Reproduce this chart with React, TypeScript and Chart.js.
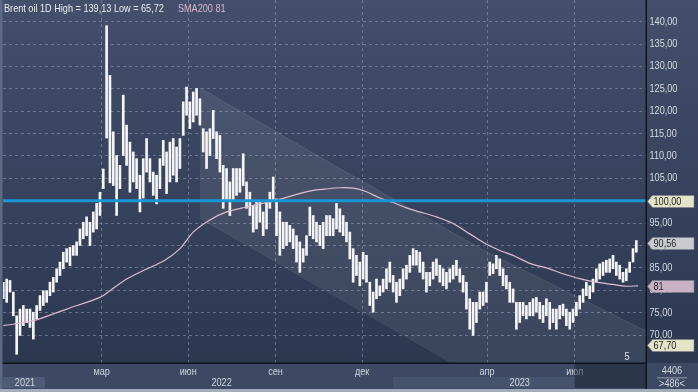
import React, { useEffect, useRef } from 'react';
import { Chart, registerables } from 'chart.js';

Chart.register(...registerables);

const FONT = "'Liberation Sans', Arial, sans-serif";
const SX = 0.83; // horizontal compression to imitate a narrow UI font

// OHLC ranges sampled along the time axis (index units)
const highs = [
  81.8, 82.5, 82.2, 79.6, 74.3, 75.8, 76.6, 75.8, 75.8, 75.1,
  76.6, 78.8, 79.9, 79.9, 81.8, 82.9, 84.8, 86.3, 88.5, 89.3,
  89.6, 90.0, 90.8, 93.7, 95.2, 96.4, 95.2, 97.5, 99.4, 101.9,
  107.1, 139.1, 128.0, 115.4, 110.1, 107.9, 123.6, 116.9, 113.1, 110.9,
  109.4, 105.7, 109.4, 113.9, 109.4, 106.4, 105.7, 109.4, 113.5, 110.9,
  113.1, 113.9, 112.0, 113.9, 122.1, 125.4, 122.1, 124.3, 125.1, 122.8,
  116.1, 115.4, 116.1, 120.2, 115.4, 114.6, 107.9, 107.2, 104.2, 107.2,
  107.2, 107.2, 110.5, 104.2, 101.9, 98.9, 99.7, 99.7, 97.5, 99.7,
  101.9, 105.3, 100.4, 97.5, 95.2, 95.2, 94.5, 93.7, 92.2, 90.8,
  89.3, 92.2, 98.6, 96.7, 95.2, 94.5, 95.2, 96.7, 96.7, 96.0,
  99.4, 98.2, 96.7, 95.2, 93.0, 89.3, 87.8, 86.3, 88.5, 87.8,
  81.8, 79.6, 82.5, 81.0, 82.5, 84.8, 86.3, 83.3, 81.8, 82.5,
  84.8, 85.6, 87.8, 89.3, 88.9, 88.5, 86.3, 84.0, 84.0, 86.3,
  87.0, 85.6, 84.8, 84.0, 84.8, 85.6, 86.7, 84.8, 83.3, 81.8,
  78.1, 77.3, 77.3, 79.6, 79.6, 81.8, 86.3, 85.9, 87.8, 87.0,
  84.8, 83.3, 81.8, 80.3, 77.3, 77.3, 77.3, 76.6, 77.3, 78.1,
  78.4, 77.3, 76.6, 78.1, 77.3, 75.8, 75.8, 76.6, 76.9, 75.8,
  75.1, 75.8, 77.3, 78.8, 80.3, 81.8, 81.0, 82.5, 84.8, 85.9,
  86.3, 86.7, 87.0, 87.8, 86.3, 85.6, 84.0, 84.8, 86.3, 89.3,
  91.1,
];

const lows = [
  78.1, 77.3, 79.6, 74.3, 65.7, 69.9, 72.1, 72.8, 71.7, 69.1,
  73.6, 75.5, 76.6, 77.3, 78.8, 79.6, 81.8, 83.3, 84.8, 86.3,
  85.5, 87.8, 87.8, 90.0, 91.5, 92.2, 90.0, 93.0, 93.7, 96.7,
  102.7, 114.0, 104.0, 103.4, 96.7, 102.7, 110.1, 107.9, 101.9, 104.2,
  102.7, 97.5, 100.6, 106.4, 104.2, 101.2, 99.3, 102.7, 107.9, 101.6,
  104.2, 105.7, 104.2, 107.2, 114.6, 119.1, 116.1, 117.6, 119.1, 116.9,
  110.9, 107.2, 110.1, 113.9, 109.4, 106.4, 98.3, 99.8, 96.7, 99.8,
  101.2, 101.9, 103.4, 98.3, 96.7, 93.0, 93.7, 95.2, 92.2, 93.7,
  98.3, 99.8, 92.2, 87.8, 89.3, 90.0, 90.8, 89.3, 86.3, 84.0,
  86.3, 87.8, 92.2, 91.5, 90.8, 90.0, 89.3, 92.2, 92.2, 92.2,
  93.7, 93.0, 92.2, 90.8, 87.0, 81.8, 83.3, 81.0, 82.5, 81.8,
  76.6, 75.1, 78.1, 78.8, 79.6, 80.3, 81.8, 79.6, 77.3, 78.8,
  80.3, 82.5, 84.0, 85.6, 85.6, 84.0, 82.5, 79.6, 81.0, 82.5,
  83.3, 81.8, 81.0, 80.3, 81.8, 82.5, 83.3, 81.8, 79.6, 75.8,
  71.3, 69.9, 72.8, 75.8, 76.6, 77.3, 83.3, 83.7, 84.8, 83.3,
  81.0, 80.3, 77.3, 77.3, 71.3, 72.8, 74.3, 73.6, 74.3, 74.3,
  75.1, 73.6, 72.8, 74.3, 71.3, 72.8, 71.3, 73.6, 74.3, 72.1,
  71.3, 72.8, 74.3, 75.8, 77.3, 78.8, 78.1, 79.6, 81.8, 82.5,
  83.3, 84.0, 84.0, 84.8, 83.3, 82.5, 81.8, 82.1, 84.0, 86.3,
  88.5,
];

// SMA200
const smaX = [0, 9, 19, 29, 32, 37, 42, 48.5, 53, 57, 62, 67, 73, 77, 82, 87, 93, 96.5, 101, 105, 109, 113, 117, 121, 125, 130, 135, 140, 144.5, 149, 153, 158, 163, 168, 173, 178, 183, 187, 190.5];
const smaY = [72.1, 73.2, 75.8, 78.4, 79.9, 82.5, 84.4, 86.7, 89.3, 93.0, 95.7, 97.5, 98.6, 99.3, 100.1, 101.2, 102.3, 102.6, 102.9, 102.8, 102.0, 100.6, 99.6, 98.4, 97.5, 96.4, 94.9, 92.6, 90.5, 88.9, 87.8, 86.0, 85.0, 83.7, 82.6, 81.8, 81.3, 80.9, 81.0];

// Descending channel
const channelX = [59, 96.5, 144.5, 192.9];
const channelUpper = [125.2, 109.1, 88.8, 70.9];
const channelLower = [96.1, 80.0, 59.5, 38.8];

const LEVEL = 100;

const X_MIN = -0.1;
const X_MAX = 192.9;
const Y_MIN = 63.75;
const Y_MAX = 144.85;

const yTicks = [70, 75, 80, 85, 90, 95, 100, 105, 110, 115, 120, 125, 130, 135, 140];
const monthTickPos = [29.5, 55.5, 81.7, 107.7, 145.2, 171.5];
const monthLabels = ['мар', 'июн', 'сен', 'дек', 'апр', 'июл'];
const yearLabels = ['2021', '2022', '2023'];
const yearLabelPos = [6.5, 65.5, 155];
const yearStartPos = [12.5, 117];

const tagValues = [100, 90.56, 81, 67.7];
const tagTexts = ['100,00', '90,56', '81', '67,70'];
const tagColors = ['#e4e4c6', '#c9cbcf', '#c9b2c3', '#e4e4c6'];

const titleText = 'Brent oil 1D High = 139,13 Low = 65,72';
const smaText = 'SMA200 81';

const fmt = (v: number) => v.toFixed(2).replace('.', ',');

function text(ctx: CanvasRenderingContext2D, t: string, x: number, y: number, align: CanvasTextAlign, color: string) {
  ctx.save();
  ctx.translate(x, y);
  ctx.scale(SX, 1);
  ctx.font = `11px ${FONT}`;
  ctx.textAlign = align;
  ctx.textBaseline = 'middle';
  ctx.fillStyle = color;
  ctx.fillText(t, 0, 0);
  ctx.restore();
}

const decorPlugin = {
  id: 'decor',
  beforeDraw(chart: any) {
    const { ctx, width, height, chartArea: ca, scales } = chart;
    const xs = scales.x;
    ctx.save();
    const g = ctx.createLinearGradient(0, 0, 0, ca.bottom);
    g.addColorStop(0, '#434f6b');
    g.addColorStop(1, '#2c3850');
    ctx.fillStyle = g;
    ctx.fillRect(0, 0, width, ca.bottom);
    // bottom strip
    ctx.fillStyle = '#3d4962';
    ctx.fillRect(0, ca.bottom, width, height - ca.bottom);
    const yb0 = ca.bottom + 14;
    const yb1 = ca.bottom + 25;
    ctx.fillStyle = '#4e5b75';
    ctx.fillRect(ca.left, yb0, xs.getPixelForValue(yearStartPos[0]) - ca.left, yb1 - yb0);
    ctx.fillStyle = '#46536d';
    const s23 = xs.getPixelForValue(yearStartPos[1]);
    ctx.fillRect(s23, yb0, xs.getPixelForValue(monthTickPos[5]) - s23, yb1 - yb0);
    ctx.restore();
  },
  afterDraw(chart: any) {
    const { ctx, width, height, chartArea: ca, scales } = chart;
    const xs = scales.x;
    const ys = scales.y;
    ctx.save();
    // y labels
    yTicks.forEach((v) => {
      text(ctx, fmt(v), ca.right + 3.5, ys.getPixelForValue(v), 'left', '#d6dbe3');
    });
    // month labels
    monthTickPos.forEach((p, i) => {
      text(ctx, monthLabels[i], xs.getPixelForValue(p), ca.bottom + 9, 'center', '#cfd5de');
    });
    // dark overlay on recent period
    const j = xs.getPixelForValue(monthTickPos[5]);
    ctx.fillStyle = 'rgba(24,32,46,0.45)';
    ctx.fillRect(j, ca.bottom + 1, ca.right - j, 24);
    // year labels
    yearLabels.forEach((t, i) => {
      text(ctx, t, xs.getPixelForValue(yearLabelPos[i]), ca.bottom + 19.5, 'center', '#d3d8e0');
    });
    // borders
    ctx.fillStyle = '#0f131a';
    ctx.fillRect(ca.right - 0.5, 0, 1.5, height);
    ctx.fillRect(0, ca.bottom - 0.5, ca.right, 1.5);
    ctx.fillStyle = '#5d6a83';
    ctx.fillRect(0, 0, 2.5, height);
    ctx.fillStyle = '#a4adbb';
    ctx.fillRect(0, height - 3, width, 3);
    // title
    text(ctx, titleText, 4, 8.5, 'left', '#e8ebf0');
    ctx.font = `11px ${FONT}`;
    const tw = ctx.measureText(titleText).width * SX;
    text(ctx, smaText, 4 + tw + 14, 8.5, 'left', '#d8b6cd');
    // "5"
    text(ctx, '5', 627, 357, 'center', '#e2e4e8');
    // right box texts
    const cx = (ca.right + width) / 2;
    text(ctx, '4406', cx, ca.bottom + 8, 'center', '#d3d8e0');
    ctx.fillStyle = '#aab3c2';
    ctx.fillRect(cx - 15, ca.bottom + 14.5, 30, 0.8);
    text(ctx, '>486<', cx, ca.bottom + 20.5, 'center', '#d3d8e0');
    // tags
    tagValues.forEach((v, i) => {
      const yy = Math.round(ys.getPixelForValue(v)) + 0.5;
      const x0 = ca.right + 1.5;
      ctx.beginPath();
      ctx.moveTo(x0, yy);
      ctx.lineTo(x0 + 5, yy - 6);
      ctx.lineTo(width - 4, yy - 6);
      ctx.lineTo(width - 4, yy + 6);
      ctx.lineTo(x0 + 5, yy + 6);
      ctx.closePath();
      ctx.fillStyle = tagColors[i];
      ctx.fill();
      ctx.strokeStyle = '#7c828c';
      ctx.lineWidth = 0.6;
      ctx.stroke();
      text(ctx, tagTexts[i], x0 + 6, yy + 0.5, 'left', '#1d2027');
    });
    ctx.restore();
  },
};

export default function App() {
  const ref = useRef<HTMLCanvasElement>(null);
  useEffect(() => {
    if (!ref.current) return;
    const bars = highs.map((h, i) => ({ x: i, y: [lows[i], h] }));
    const sma = smaX.map((x, i) => ({ x, y: smaY[i] }));
    const up = channelX.map((x, i) => ({ x, y: channelUpper[i] }));
    const lo = channelX.map((x, i) => ({ x, y: channelLower[i] }));
    const gridColor = 'rgba(140,155,180,0.55)';
    const chart = new Chart(ref.current, {
      type: 'bar',
      data: {
        datasets: [
          {
            type: 'line', data: up, borderColor: 'rgba(255,255,255,0.10)', borderWidth: 1,
            pointRadius: 0, fill: false, order: 10,
          } as any,
          {
            type: 'line', data: lo, borderColor: 'rgba(255,255,255,0.06)', borderWidth: 1,
            pointRadius: 0, fill: '-1', backgroundColor: 'rgba(255,255,255,0.07)', order: 9,
          } as any,
          {
            type: 'bar', data: bars, backgroundColor: '#f5f5f7', barThickness: 2, order: 5,
          } as any,
          {
            type: 'line', data: sma, borderColor: '#dcbdd2', borderWidth: 1.2, pointRadius: 0,
            tension: 0.3, fill: false, order: 2,
          } as any,
          {
            type: 'line', data: [{ x: X_MIN, y: LEVEL }, { x: X_MAX, y: LEVEL }], borderColor: '#1b96d4',
            borderWidth: 3.2, pointRadius: 0, fill: false, order: 1,
          } as any,
        ],
      },
      options: {
        animation: false,
        responsive: false,
        devicePixelRatio: 1,
        layout: { padding: { left: 3, top: 0, right: 0, bottom: 0 } },
        plugins: { legend: { display: false }, tooltip: { enabled: false } },
        scales: {
          x: {
            type: 'linear',
            min: X_MIN,
            max: X_MAX,
            offset: false,
            afterBuildTicks: (s: any) => { s.ticks = monthTickPos.map((v) => ({ value: v })); },
            afterFit: (s: any) => { s.height = 29; s.paddingLeft = 0; s.paddingRight = 0; },
            grid: { color: gridColor, drawTicks: false, offset: false },
            border: { display: false, dash: [3, 3] },
            ticks: { display: false },
          },
          y: {
            type: 'linear',
            position: 'right',
            min: Y_MIN,
            max: Y_MAX,
            afterBuildTicks: (s: any) => { s.ticks = yTicks.map((v) => ({ value: v })); },
            afterFit: (s: any) => { s.width = 52; s.paddingTop = 0; s.paddingBottom = 0; },
            grid: { color: gridColor, drawTicks: false },
            border: { display: false, dash: [3, 3] },
            ticks: { display: false },
          },
        },
      },
      plugins: [decorPlugin],
    });
    return () => chart.destroy();
  }, []);
  return (
    <div style={{ position: 'fixed', left: 0, top: 0, width: 698, height: 392 }}>
      <canvas ref={ref} width={698} height={392} style={{ display: 'block', width: 698, height: 392 }} />
    </div>
  );
}
